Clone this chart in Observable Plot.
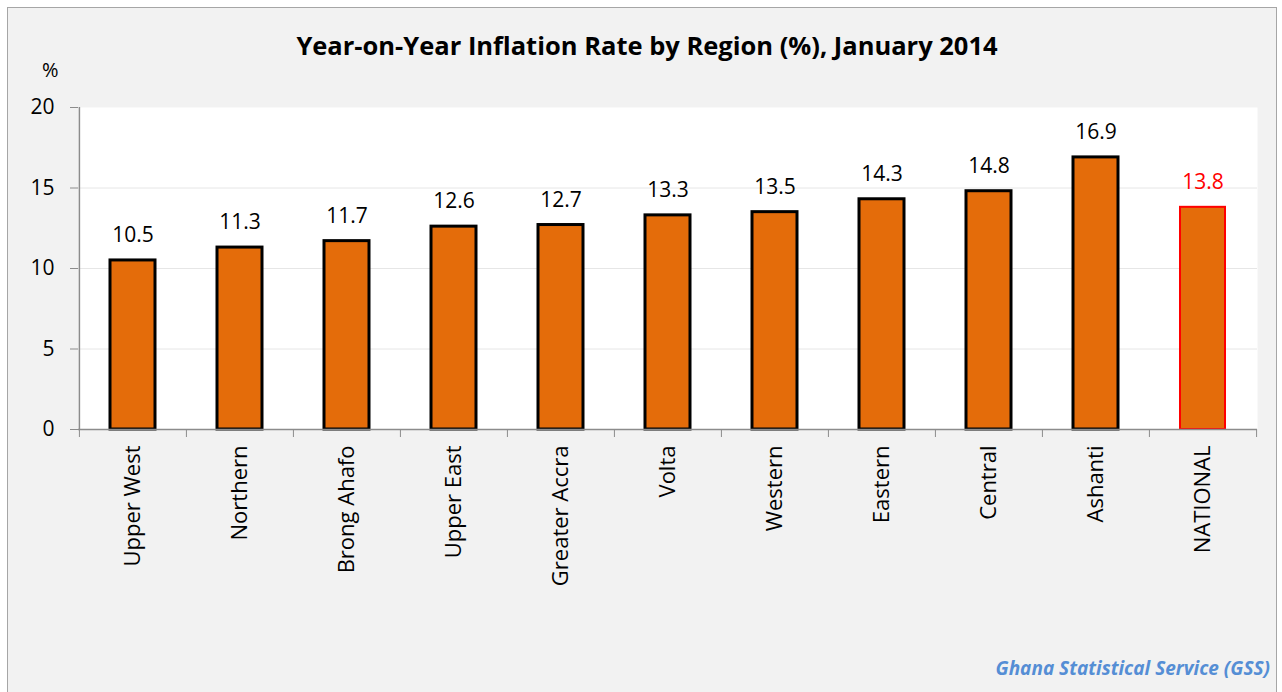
<!DOCTYPE html>
<html><head><meta charset="utf-8">
<script src="https://cdn.jsdelivr.net/npm/d3@7"></script>
<script src="https://cdn.jsdelivr.net/npm/@observablehq/plot@0.6"></script>
<style>
html,body{margin:0;padding:0;background:#fff;overflow:hidden;width:1282px;height:692px}
#card{position:absolute;left:7px;top:7px;width:1270px;height:700px;background:#f2f2f2;border:1px solid #a6a6a6;box-sizing:border-box;font-family:"Open Sans",sans-serif;color:#000}
#title{position:absolute;left:0;width:100%;top:20px;text-align:center;font-weight:bold;font-size:25.5px;line-height:34px;padding-left:10px;box-sizing:border-box}
#unit{position:absolute;left:34px;top:48px;font-size:20px;line-height:28px}
#chart{position:absolute;left:0;top:52px}
#caption{position:absolute;right:6px;top:648px;font-size:19px;line-height:24px;font-style:italic;font-weight:bold;color:#558ed5}
</style></head>
<body>
<div id="card">
  <div id="title">Year-on-Year Inflation Rate by Region (%), January 2014</div>
  <div id="unit">%</div>
  <div id="chart"></div>
  <div id="caption">Ghana Statistical Service (GSS)</div>
</div>
<script>
const regions = ["Upper West","Northern","Brong Ahafo","Upper East","Greater Accra","Volta","Western","Eastern","Central","Ashanti","NATIONAL"];
const rates = [10.5, 11.3, 11.7, 12.6, 12.7, 13.3, 13.5, 14.3, 14.8, 16.9, 13.8];
const yTicks = [0, 5, 10, 15, 20];
const gridTicks = [5, 10, 15];

const data = regions.map((r, i) => ({region: r, rate: rates[i]}));
const regionData = data.filter(d => d.region !== "NATIONAL");
const nationalData = data.filter(d => d.region === "NATIONAL");

const W = 1268, H = 560;
const mL = 70, mR = 19, mT = 47, mB = 191;
const step = (W - mL - mR) / regions.length;

const plot = Plot.plot({
  width: W, height: H,
  marginLeft: mL, marginRight: mR, marginTop: mT, marginBottom: mB,
  style: {background: "transparent", fontFamily: "Open Sans, sans-serif", fontSize: "20px", color: "#000", overflow: "visible"},
  x: {domain: regions, paddingInner: 0.58, paddingOuter: 0.29, label: null},
  y: {domain: [0, 20], label: null},
  marks: [
    Plot.frame({fill: "white", stroke: null}),
    Plot.gridY(gridTicks, {stroke: "#e6e6e6", strokeOpacity: 1, strokeWidth: 1}),
    Plot.barY(regionData, {x: "region", y: "rate", fill: "#e46c0a", stroke: "black", strokeWidth: 3}),
    Plot.barY(nationalData, {x: "region", y: "rate", fill: "#e46c0a", stroke: "#ff0000", strokeWidth: 2}),
    Plot.ruleY([0], {stroke: "#8c8c8c", strokeWidth: 1.5}),
    Plot.ruleX([regions[0]], {y1: 0, y2: 20, dx: -step / 2, stroke: "#8c8c8c", strokeWidth: 1.5}),
    Plot.axisY({ticks: yTicks, tickSize: 8, tickPadding: 16, stroke: "#8c8c8c", fontSize: 21, label: null, fill: "#000"}),
    Plot.axisX({tickSize: 8, text: null, dx: -step / 2, stroke: "#8c8c8c", label: null}),
    Plot.axisX([regions[regions.length - 1]], {tickSize: 8, text: null, dx: step / 2, stroke: "#8c8c8c", label: null}),
    Plot.axisX({tickSize: 0, tickPadding: 16, tickRotate: -90, fontSize: 22, label: null, fill: "#000"}),
    Plot.text(regionData, {x: "region", y: "rate", text: d => d.rate.toFixed(1), dy: -25, fontSize: 21, fill: "#000"}),
    Plot.text(nationalData, {x: "region", y: "rate", text: d => d.rate.toFixed(1), dy: -25, fontSize: 21, fill: "#ff0000"})
  ]
});
document.getElementById("chart").appendChild(plot);
</script>
</body></html>
